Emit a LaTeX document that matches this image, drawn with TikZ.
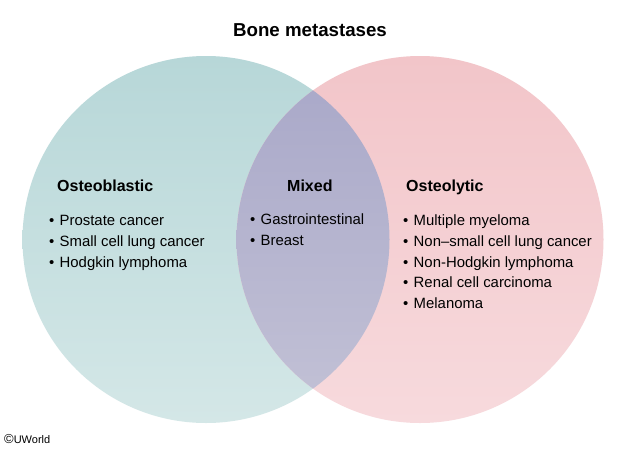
\documentclass[tikz,border=0pt]{standalone}
\usepackage{fontspec}
\setmainfont{Liberation Sans}
\definecolor{lefttop}{HTML}{B7D7D8}
\definecolor{leftbot}{HTML}{D4E7E7}
\definecolor{righttop}{HTML}{F2C5C9}
\definecolor{rightbot}{HTML}{F7DADD}
\definecolor{midtop}{HTML}{A8A7C8}
\definecolor{midbot}{HTML}{C3C2D6}
\newcommand{\bulletitem}{\textbullet\hspace{5.3pt}}
\begin{document}
\begin{tikzpicture}[x=1pt,y=-1pt,
  titletext/.style={font=\fontsize{18.7}{22}\selectfont\bfseries, inner sep=0pt, anchor=base},
  headtext/.style={font=\fontsize{16}{19}\selectfont\bfseries, inner sep=0pt, anchor=base west},
  itemtext/.style={font=\fontsize{14.9}{17}\selectfont, inner sep=0pt, anchor=base west},
  smalltext/.style={font=\fontsize{11}{13}\selectfont, inner sep=0pt, anchor=base west}]
\useasboundingbox (0,0) rectangle (620,450);
\fill[white] (0,0) rectangle (620,450);
% circles
\shade[top color=lefttop, bottom color=leftbot] (206,239.5) circle[radius=183.5];
\shade[top color=righttop, bottom color=rightbot] (420,239.5) circle[radius=183.5];
\begin{scope}
  \clip (206,239.5) circle[radius=183.5];
  \shade[top color=midtop, bottom color=midbot] (420,239.5) circle[radius=183.5];
\end{scope}
% title
\node[titletext] (title) at (310,36) {Bone metastases};
% left
\node[headtext] (hl) at (57,191) {Osteoblastic};
\node[itemtext] (l1) at (49,225) {\bulletitem Prostate cancer};
\node[itemtext] (l2) at (49,246) {\bulletitem Small cell lung cancer};
\node[itemtext] (l3) at (49,267) {\bulletitem Hodgkin lymphoma};
% middle
\node[headtext] (hm) at (287,191) {Mixed};
\node[itemtext] (m1) at (250,224.5) {\bulletitem Gastrointestinal};
\node[itemtext] (m2) at (250,245) {\bulletitem Breast};
% right
\node[headtext] (hr) at (406,191) {Osteolytic};
\node[itemtext] (r1) at (403,225) {\bulletitem Multiple myeloma};
\node[itemtext] (r2) at (403,246) {\bulletitem Non–small cell lung cancer};
\node[itemtext] (r3) at (403,267) {\bulletitem Non-Hodgkin lymphoma};
\node[itemtext] (r4) at (403,287.5) {\bulletitem Renal cell carcinoma};
\node[itemtext] (r5) at (403,308.5) {\bulletitem Melanoma};
% copyright
\node[smalltext] (copy) at (4,443) {\raisebox{-0.5pt}{\fontsize{13}{13}\selectfont ©}UWorld};
\end{tikzpicture}
\end{document}
